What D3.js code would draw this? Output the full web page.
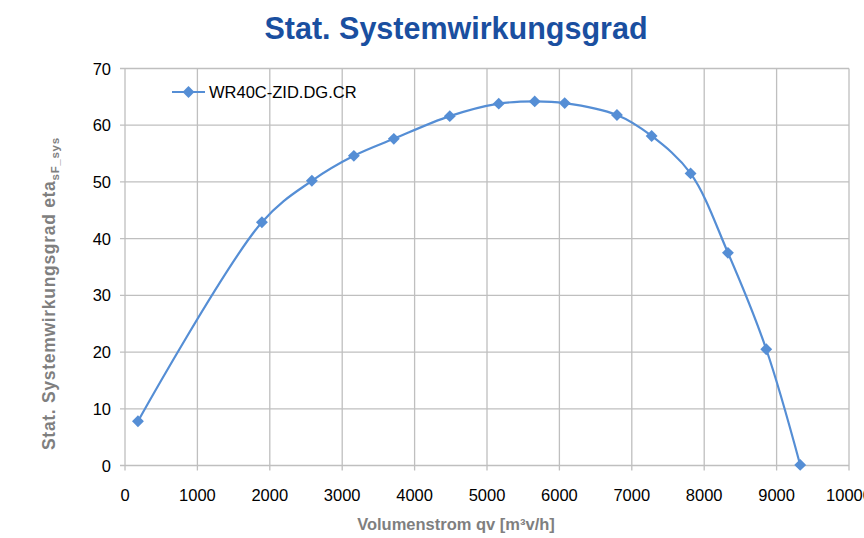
<!DOCTYPE html>
<html>
<head>
<meta charset="utf-8">
<script src="https://cdn.jsdelivr.net/npm/d3@7"></script>
<style>
  body { margin: 0; background: #fff; }
  svg { font-family: "Liberation Sans", Arial, sans-serif; }
</style>
</head>
<body>
<svg id="chart" width="864" height="538"></svg>
<script>
// data
var flow = [179, 1891, 2581, 3161, 3713, 4486, 5162, 5659, 6073, 6795, 7274, 7812, 8328, 8857, 9326]
var eta = [7.8, 42.9, 50.2, 54.6, 57.6, 61.6, 63.8, 64.2, 63.9, 61.8, 58.1, 51.5, 37.5, 20.5, 0.1]
var xTicks = [0, 1000, 2000, 3000, 4000, 5000, 6000, 7000, 8000, 9000, 10000]
var yTicks = [0, 10, 20, 30, 40, 50, 60, 70]
var seriesName = 'WR40C-ZID.DG.CR'

var svg = d3.select('#chart')
var plot = { left: 125, right: 849, top: 68.5, bottom: 465.5 }
var blue = '#558ed5', grid = '#bfbfbf'

var x = d3.scaleLinear().domain([0, 10000]).range([plot.left, plot.right])
var y = d3.scaleLinear().domain([0, 70]).range([plot.bottom, plot.top])

// grid
svg.append('g').selectAll('line').data(yTicks).enter().append('line')
  .attr('x1', plot.left - 5).attr('x2', plot.right)
  .attr('y1', function (d) { return y(d) }).attr('y2', function (d) { return y(d) })
  .attr('stroke', grid).attr('stroke-width', 1.3)
svg.append('g').selectAll('line').data(xTicks).enter().append('line')
  .attr('x1', function (d) { return x(d) }).attr('x2', function (d) { return x(d) })
  .attr('y1', plot.top).attr('y2', plot.bottom + 5)
  .attr('stroke', grid).attr('stroke-width', 1.3)

// tick labels
svg.append('g').selectAll('text').data(yTicks).enter().append('text')
  .attr('x', plot.left - 14).attr('y', function (d) { return y(d) + 6 })
  .attr('text-anchor', 'end').attr('font-size', 16.5).attr('fill', '#000')
  .text(function (d) { return d })
svg.append('g').selectAll('text').data(xTicks).enter().append('text')
  .attr('x', function (d) { return x(d) }).attr('y', plot.bottom + 35)
  .attr('text-anchor', 'middle').attr('font-size', 16.5).attr('fill', '#000')
  .text(function (d) { return d })

// titles
svg.append('text').attr('x', 456).attr('y', 39)
  .attr('text-anchor', 'middle').attr('font-size', 30.5).attr('font-weight', 'bold')
  .attr('fill', '#1a4fa0').text('Stat. Systemwirkungsgrad')

svg.append('text').attr('x', 456).attr('y', 530)
  .attr('text-anchor', 'middle').attr('font-size', 16.5).attr('font-weight', 'bold')
  .attr('fill', '#7f7f7f').text('Volumenstrom qv [m³v/h]')

var yt = svg.append('text').attr('transform', 'translate(55,450) rotate(-90)')
  .attr('text-anchor', 'start').attr('font-size', 17.5).attr('font-weight', 'bold')
  .attr('letter-spacing', 0.7).attr('fill', '#7f7f7f')
yt.append('tspan').text('Stat. Systemwirkungsgrad eta')
yt.append('tspan').attr('font-size', 11.5).attr('dy', 4).text('sF_sys')

// series
var pts = flow.map(function (v, i) { return [v, eta[i]] })
var line = d3.line()
  .x(function (d) { return x(d[0]) }).y(function (d) { return y(d[1]) })
  .curve(d3.curveCatmullRom.alpha(0.5))
svg.append('path').datum(pts).attr('d', line)
  .attr('fill', 'none').attr('stroke', blue).attr('stroke-width', 2.2)

var diamond = d3.symbol().type(d3.symbolDiamond2).size(90)
svg.append('g').selectAll('path').data(pts).enter().append('path')
  .attr('transform', function (d) { return 'translate(' + x(d[0]) + ',' + y(d[1]) + ')' })
  .attr('d', diamond).attr('fill', blue)

// legend
var lg = svg.append('g').attr('transform', 'translate(172,92)')
lg.append('line').attr('x1', 0).attr('x2', 33).attr('stroke', blue).attr('stroke-width', 2.2)
lg.append('path').attr('transform', 'translate(16.5,0)').attr('d', diamond).attr('fill', blue)
lg.append('text').attr('x', 37).attr('y', 6).attr('font-size', 16.5).attr('fill', '#000').text(seriesName)
</script>
</body>
</html>
